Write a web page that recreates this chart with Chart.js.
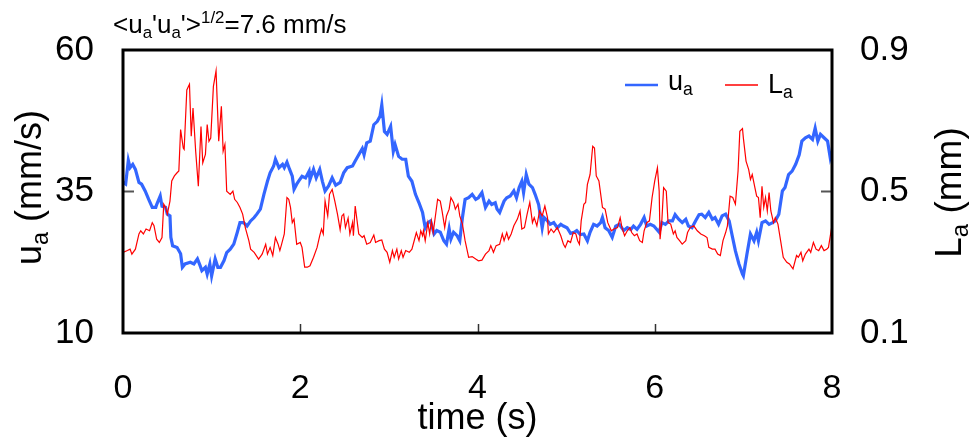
<!DOCTYPE html>
<html>
<head>
<meta charset="utf-8">
<script src="https://cdn.jsdelivr.net/npm/chart.js@4.4.1/dist/chart.umd.min.js"></script>
<style>
  html, body { margin: 0; padding: 0; background: #fff; }
  #wrap { width: 973px; height: 438px; position: relative; }
</style>
</head>
<body>
<div id="wrap"><canvas id="chart"></canvas></div>
<script>
// u_a (mm/s), left axis
const uTime = [0.00,0.03,0.06,0.08,0.11,0.14,0.18,0.21,0.25,0.29,0.33,0.37,0.38,0.42,0.44,0.48,0.50,0.53,0.54,0.56,
  0.61,0.65,0.67,0.70,0.76,0.80,0.84,0.87,0.89,0.93,0.95,0.98,1.00,1.04,1.07,1.10,1.14,1.17,1.21,1.25,
  1.29,1.32,1.36,1.40,1.44,1.48,1.51,1.55,1.59,1.63,1.66,1.70,1.72,1.76,1.80,1.82,1.85,1.88,1.91,1.93,
  1.96,1.98,2.02,2.06,2.10,2.11,2.15,2.18,2.22,2.25,2.28,2.32,2.36,2.40,2.45,2.49,2.53,2.59,2.62,2.66,
  2.70,2.72,2.75,2.79,2.83,2.87,2.90,2.92,2.95,2.98,3.02,3.05,3.07,3.11,3.15,3.19,3.22,3.26,3.30,3.34,
  3.38,3.41,3.44,3.47,3.51,3.54,3.58,3.62,3.65,3.68,3.70,3.73,3.77,3.80,3.83,3.86,3.90,3.94,3.98,4.01,
  4.05,4.09,4.13,4.16,4.20,4.22,4.25,4.30,4.33,4.37,4.41,4.44,4.47,4.50,4.52,4.55,4.58,4.62,4.65,4.69,
  4.73,4.75,4.79,4.82,4.86,4.90,4.94,4.97,5.01,5.05,5.09,5.12,5.16,5.20,5.24,5.27,5.31,5.35,5.39,5.41,
  5.44,5.48,5.52,5.56,5.60,5.65,5.69,5.73,5.76,5.80,5.84,5.88,5.91,5.95,5.99,6.05,6.08,6.12,6.16,6.20,
  6.23,6.27,6.31,6.35,6.38,6.42,6.46,6.50,6.53,6.57,6.61,6.65,6.68,6.72,6.76,6.80,6.84,6.87,6.91,6.95,
  6.99,7.00,7.04,7.08,7.12,7.15,7.17,7.21,7.25,7.29,7.33,7.36,7.40,7.44,7.47,7.51,7.55,7.59,7.63,7.66,
  7.70,7.74,7.78,7.81,7.84,7.87,7.91,7.95,7.98,8.00];
const uVals = [36.6,36.3,40.5,39.2,39.8,38.9,36.6,36.3,35.1,33.6,32.2,32.2,32.7,34.2,32.4,32.2,31.0,30.7,26.9,25.4,
  25.1,24.0,21.6,22.2,22.5,22.2,23.1,21.9,21.0,21.6,20.4,22.2,20.1,23.1,21.6,21.6,22.8,24.2,24.8,25.7,
  27.8,29.5,29.5,28.9,29.8,30.4,31.0,31.9,34.5,36.8,38.3,39.5,40.7,39.2,39.8,39.2,40.2,38.9,37.7,35.4,
  36.3,36.8,37.7,37.4,38.6,37.1,38.9,37.4,38.9,36.8,35.1,36.0,37.4,36.1,36.6,38.3,39.2,39.5,40.4,41.5,
  42.6,41.5,43.6,43.9,46.8,47.4,48.3,50.3,45.6,45.1,46.5,42.1,43.3,41.2,40.7,40.7,37.7,36.8,34.5,33.0,
  31.3,28.6,29.5,29.8,27.5,28.1,27.8,26.3,25.7,28.4,26.6,27.8,27.2,26.3,30.4,33.6,33.9,34.5,33.6,33.9,
  34.8,32.2,33.3,32.7,33.0,31.9,31.3,33.3,33.9,34.2,35.1,33.9,35.7,36.8,34.8,38.0,36.3,35.7,34.5,32.7,
  28.6,30.4,29.8,29.2,29.5,28.6,29.2,28.9,28.6,27.6,27.8,28.1,27.4,27.5,26.3,27.8,29.2,28.9,29.5,30.4,
  28.6,28.1,26.9,28.9,29.2,28.1,28.6,28.3,28.9,28.3,29.2,30.4,28.9,29.2,28.9,27.8,29.5,29.2,29.8,29.8,
  30.9,30.1,29.5,30.1,28.9,28.6,29.8,30.9,31.0,30.4,31.3,30.1,30.4,29.2,30.7,31.0,29.8,27.5,24.5,22.2,
  20.4,20.1,23.9,27.5,26.3,27.8,26.3,29.5,29.8,29.2,29.5,29.8,31.0,35.1,35.7,38.0,38.6,39.8,41.5,43.9,
  44.5,44.8,44.2,46.2,43.9,45.1,44.5,43.9,41.0,42.1];

// L_a (mm), right axis
const lTime = [0.00,0.05,0.08,0.10,0.14,0.18,0.20,0.23,0.26,0.30,0.33,0.35,0.38,0.41,0.44,0.46,0.48,0.50,0.53,0.55,
  0.58,0.61,0.63,0.65,0.68,0.69,0.72,0.75,0.77,0.79,0.82,0.85,0.88,0.90,0.93,0.95,0.97,0.99,1.02,1.05,
  1.08,1.11,1.13,1.15,1.17,1.21,1.24,1.26,1.29,1.32,1.35,1.38,1.42,1.44,1.48,1.53,1.57,1.61,1.63,1.66,
  1.69,1.72,1.75,1.77,1.79,1.82,1.85,1.87,1.89,1.91,1.93,1.96,2.00,2.02,2.05,2.08,2.11,2.15,2.19,2.22,
  2.24,2.26,2.28,2.31,2.33,2.36,2.39,2.42,2.45,2.47,2.49,2.51,2.54,2.56,2.59,2.60,2.62,2.66,2.70,2.72,
  2.75,2.79,2.83,2.85,2.89,2.92,2.95,2.98,3.01,3.04,3.06,3.09,3.11,3.14,3.16,3.19,3.23,3.26,3.29,3.31,
  3.34,3.36,3.38,3.39,3.41,3.44,3.46,3.48,3.50,3.53,3.55,3.58,3.60,3.63,3.65,3.68,3.70,3.73,3.75,3.78,
  3.80,3.83,3.86,3.90,3.94,3.98,4.01,4.05,4.09,4.13,4.15,4.18,4.21,4.25,4.28,4.30,4.33,4.35,4.38,4.41,
  4.45,4.48,4.50,4.53,4.56,4.59,4.62,4.64,4.67,4.70,4.73,4.76,4.79,4.80,4.83,4.86,4.90,4.94,4.97,4.99,
  5.02,5.05,5.08,5.11,5.13,5.15,5.17,5.20,5.22,5.24,5.27,5.30,5.32,5.34,5.37,5.41,5.44,5.47,5.51,5.54,
  5.58,5.61,5.63,5.66,5.69,5.72,5.74,5.77,5.80,5.83,5.86,5.88,5.91,5.94,5.97,6.00,6.03,6.05,6.06,6.08,
  6.10,6.13,6.15,6.18,6.21,6.23,6.25,6.28,6.31,6.35,6.37,6.40,6.44,6.48,6.52,6.56,6.59,6.61,6.65,6.68,
  6.71,6.74,6.77,6.80,6.82,6.85,6.88,6.91,6.94,6.96,6.99,7.00,7.03,7.06,7.08,7.10,7.13,7.15,7.17,7.19,
  7.21,7.23,7.25,7.27,7.29,7.31,7.34,7.36,7.39,7.42,7.45,7.49,7.52,7.56,7.60,7.62,7.65,7.67,7.70,7.74,
  7.76,7.79,7.82,7.85,7.88,7.91,7.94,7.96,7.99,8.00];
const lVals = [0.328,0.333,0.337,0.323,0.337,0.380,0.389,0.380,0.394,0.389,0.412,0.403,0.365,0.356,0.370,0.464,0.455,0.436,0.473,0.530,
  0.544,0.553,0.558,0.675,0.623,0.619,0.787,0.803,0.656,0.736,0.614,0.515,0.684,0.581,0.605,0.689,0.642,0.651,0.797,0.841,
  0.642,0.741,0.614,0.633,0.501,0.492,0.501,0.478,0.469,0.455,0.436,0.398,0.361,0.337,0.328,0.309,0.323,0.351,0.323,0.342,
  0.319,0.370,0.351,0.333,0.351,0.380,0.483,0.478,0.455,0.412,0.422,0.351,0.356,0.342,0.286,0.286,0.290,0.314,0.342,0.375,
  0.394,0.380,0.473,0.431,0.492,0.506,0.473,0.436,0.392,0.431,0.436,0.398,0.425,0.380,0.412,0.375,0.459,0.380,0.370,0.375,
  0.351,0.356,0.377,0.356,0.361,0.363,0.337,0.328,0.300,0.333,0.314,0.337,0.309,0.333,0.314,0.333,0.328,0.337,0.365,0.384,
  0.361,0.389,0.375,0.389,0.361,0.412,0.380,0.417,0.384,0.440,0.478,0.473,0.445,0.398,0.431,0.450,0.483,0.469,0.450,0.464,
  0.431,0.408,0.361,0.314,0.316,0.309,0.304,0.306,0.323,0.333,0.347,0.328,0.347,0.351,0.380,0.361,0.384,0.365,0.380,0.403,
  0.422,0.445,0.394,0.398,0.436,0.469,0.412,0.426,0.403,0.445,0.431,0.459,0.426,0.380,0.394,0.384,0.398,0.375,0.351,0.342,
  0.361,0.356,0.384,0.380,0.361,0.351,0.417,0.464,0.469,0.520,0.548,0.628,0.623,0.544,0.530,0.455,0.450,0.412,0.389,0.394,
  0.398,0.426,0.398,0.375,0.389,0.398,0.384,0.375,0.380,0.361,0.356,0.389,0.412,0.417,0.483,0.530,0.567,0.501,0.365,0.417,
  0.511,0.501,0.412,0.408,0.380,0.389,0.370,0.361,0.351,0.361,0.384,0.398,0.403,0.389,0.380,0.375,0.370,0.342,0.337,0.337,
  0.323,0.319,0.361,0.384,0.403,0.487,0.483,0.464,0.558,0.670,0.678,0.651,0.586,0.562,0.534,0.548,0.511,0.487,0.483,0.426,
  0.515,0.455,0.483,0.445,0.497,0.445,0.412,0.426,0.408,0.361,0.314,0.300,0.295,0.281,0.319,0.314,0.328,0.304,0.323,0.337,
  0.328,0.356,0.337,0.333,0.347,0.333,0.337,0.342,0.389,0.361];

const xTicks = [0, 2, 4, 6, 8];
const uTicks = [10, 35, 60];
const lTicks = [0.1, 0.5, 0.9];

const FONT = '"Liberation Sans", Arial, sans-serif';
const BLUE = '#3366ff';
const RED = '#ff0000';

// draw text made of parts like ['u'], ['a', 'sub'], ['1/2', 'sup']
function richWidth(ctx, parts, size) {
    let w = 0;
    parts.forEach(p => {
        const s = p[1] ? size * 0.65 : size;
        ctx.font = s + 'px ' + FONT;
        w += ctx.measureText(p[0]).width;
    });
    return w;
}

function drawRich(ctx, parts, x, y, size, align) {
    let cx = align === 'center' ? x - richWidth(ctx, parts, size) / 2 : x;
    ctx.textAlign = 'left';
    ctx.textBaseline = 'alphabetic';
    parts.forEach(p => {
        const s = p[1] ? size * 0.65 : size;
        let dy = 0;
        if (p[1] === 'sub') dy = size * 0.2;
        if (p[1] === 'sup') dy = -size * 0.38;
        ctx.font = s + 'px ' + FONT;
        ctx.fillText(p[0], cx, y + dy);
        cx += ctx.measureText(p[0]).width;
    });
}

const decor = {
    id: 'decor',
    afterDatasetsDraw(chart) {
        const { ctx, chartArea: a, scales } = chart;
        ctx.save();

        // inner tick marks
        ctx.strokeStyle = '#333';
        ctx.lineWidth = 1.5;
        xTicks.slice(1, -1).forEach(v => {
            const px = Math.round(scales.x.getPixelForValue(v)) + 0.5;
            ctx.beginPath();
            ctx.moveTo(px, a.bottom);
            ctx.lineTo(px, a.bottom - 9);
            ctx.stroke();
        });
        ctx.strokeStyle = '#555';
        ctx.lineWidth = 2;
        const py = scales.y.getPixelForValue(uTicks[1]);
        ctx.beginPath();
        ctx.moveTo(a.left, py);
        ctx.lineTo(a.left + 11, py);
        ctx.stroke();
        const py2 = scales.y2.getPixelForValue(lTicks[1]);
        ctx.beginPath();
        ctx.moveTo(a.right, py2);
        ctx.lineTo(a.right - 11, py2);
        ctx.stroke();

        // frame
        ctx.strokeStyle = '#000';
        ctx.lineWidth = 3;
        ctx.strokeRect(a.left, a.top, a.right - a.left, a.bottom - a.top);

        // legend
        const ly = a.top + 35;
        ctx.lineWidth = 2.5;
        ctx.strokeStyle = BLUE;
        ctx.beginPath();
        ctx.moveTo(a.right - 207, ly);
        ctx.lineTo(a.right - 174, ly);
        ctx.stroke();
        ctx.strokeStyle = RED;
        ctx.lineWidth = 1.5;
        ctx.beginPath();
        ctx.moveTo(a.right - 107, ly);
        ctx.lineTo(a.right - 74, ly);
        ctx.stroke();
        ctx.fillStyle = '#000';
        drawRich(ctx, [['u'], ['a', 'sub']], a.right - 164, ly + 5, 27, 'left');
        drawRich(ctx, [['L'], ['a', 'sub']], a.right - 64, ly + 8, 27, 'left');

        ctx.restore();
    },
    afterDraw(chart) {
        const { ctx, chartArea: a } = chart;
        ctx.save();
        ctx.fillStyle = '#000';

        // top note
        drawRich(ctx, [['<u'], ['a', 'sub'], ["'u"], ['a', 'sub'], ["'>"], ['1/2', 'sup'], ['=7.6 mm/s']],
            a.left - 10, 33, 26, 'left');

        // x title
        drawRich(ctx, [['time (s)']], (a.left + a.right) / 2, 429, 36, 'center');

        // left title
        ctx.save();
        ctx.translate(41, (a.top + a.bottom) / 2 - 4);
        ctx.rotate(-Math.PI / 2);
        drawRich(ctx, [['u'], ['a', 'sub'], [' (mm/s)']], 0, 0, 36, 'center');
        ctx.restore();

        // right title
        ctx.save();
        ctx.translate(961, (a.top + a.bottom) / 2 + 1);
        ctx.rotate(-Math.PI / 2);
        drawRich(ctx, [['L'], ['a', 'sub'], [' (mm)']], 0, 0, 37, 'center');
        ctx.restore();

        ctx.restore();
    }
};

const ctx = document.getElementById('chart').getContext('2d');

new Chart(ctx, {
    type: 'line',
    data: {
        datasets: [
            {
                label: 'L_a',
                data: lTime.map((t, i) => ({ x: t, y: lVals[i] })),
                borderColor: RED,
                borderWidth: 1.2,
                pointRadius: 0,
                yAxisID: 'y2',
                order: 0
            },
            {
                label: 'u_a',
                data: uTime.map((t, i) => ({ x: t, y: uVals[i] })),
                borderColor: BLUE,
                borderWidth: 3.2,
                pointRadius: 0,
                yAxisID: 'y',
                order: 1
            }
        ]
    },
    options: {
        responsive: true,
        maintainAspectRatio: false,
        animation: false,
        layout: { padding: { top: 49, left: 0, right: 0, bottom: 0 } },
        plugins: {
            legend: { display: false },
            tooltip: { enabled: false }
        },
        scales: {
            x: {
                type: 'linear',
                min: 0,
                max: 8,
                afterFit: s => { s.height = 105; },
                afterBuildTicks: s => { s.ticks = xTicks.map(v => ({ value: v })); },
                grid: { display: false, drawTicks: false },
                border: { display: false },
                ticks: { color: '#000', padding: 35, maxRotation: 0, font: { family: FONT, size: 34 } }
            },
            y: {
                position: 'left',
                min: 10,
                max: 60,
                afterFit: s => { s.width = 123; },
                afterBuildTicks: s => { s.ticks = uTicks.map(v => ({ value: v })); },
                grid: { display: false, drawTicks: false },
                border: { display: false },
                ticks: { color: '#000', padding: 29, font: { family: FONT, size: 35 } }
            },
            y2: {
                position: 'right',
                min: 0.1,
                max: 0.9,
                afterFit: s => { s.width = 141; },
                afterBuildTicks: s => { s.ticks = lTicks.map(v => ({ value: v })); },
                grid: { display: false, drawTicks: false },
                border: { display: false },
                ticks: {
                    color: '#000', padding: 28, font: { family: FONT, size: 35 },
                    callback: v => v.toFixed(1)
                }
            }
        }
    },
    plugins: [decor]
});
</script>
</body>
</html>
